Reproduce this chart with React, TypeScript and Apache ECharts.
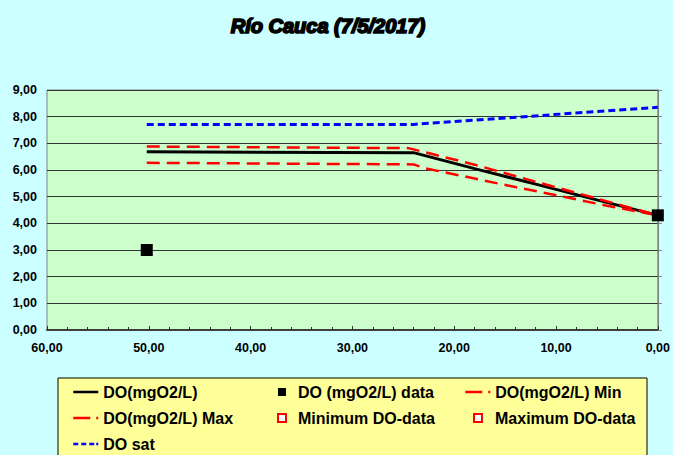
import React, { useEffect, useRef } from "react";
import * as echarts from "echarts";

const titleText = "Río Cauca (7/5/2017)";
const seriesNames = [
  "DO(mgO2/L)",
  "DO (mgO2/L) data",
  "DO(mgO2/L) Min",
  "DO(mgO2/L) Max",
  "Minimum DO-data",
  "Maximum DO-data",
  "DO sat",
];
const doModel: [number, number][] = [[50.2, 6.68], [24, 6.65], [18, 6.05], [12, 5.47], [6, 4.88], [0, 4.3]];
const doData: [number, number][] = [[50.2, 3.0], [0, 4.3]];
const doMin: [number, number][] = [[50.2, 6.27], [24, 6.21], [22.8, 6.06], [19, 5.76], [14, 5.36], [9, 4.98], [5, 4.66], [0, 4.3]];
const doMax: [number, number][] = [[50.2, 6.88], [24.5, 6.82], [18, 6.2], [12, 5.56], [6, 4.93], [0, 4.3]];
const minDoData: [number, number][] = [];
const maxDoData: [number, number][] = [];
const doSat: [number, number][] = [[50.2, 7.71], [24, 7.71], [19, 7.84], [12.4, 8.02], [6, 8.19], [0, 8.35]];

const FONT = "'Liberation Sans', Arial, sans-serif";
const fmt = (v: number) => v.toFixed(2).replace(".", ",");

export default function App() {
  const ref = useRef<HTMLDivElement>(null);
  useEffect(() => {
    if (!ref.current) return;
    const chart = echarts.init(ref.current, undefined, { renderer: "svg" });
    const legendText = { color: "#000", fontFamily: FONT, fontWeight: "bold" as const, fontSize: 16, lineHeight: 16 };
    const redIcon = { type: [17, 6, 2, 20], width: 2.5 };
    chart.setOption({
      animation: false,
      backgroundColor: "#CCFFFF",
      title: {
        text: titleText,
        left: 328,
        top: 16,
        padding: 0,
        textAlign: "center",
        textStyle: {
          fontFamily: FONT,
          fontWeight: "bold",
          fontStyle: "italic",
          fontSize: 20,
          color: "#000",
          textBorderColor: "#000",
          textBorderWidth: 1.7,
        },
      },
      graphic: [
        {
          type: "rect",
          z: 0,
          shape: { x: 58, y: 378, width: 589, height: 100 },
          style: { fill: "#FFFF99", stroke: "#000", lineWidth: 1 },
        },
      ],
      legend: [
        {
          data: [
            { name: seriesNames[0], lineStyle: { width: 2.5 } },
            { name: seriesNames[3], lineStyle: redIcon },
            { name: seriesNames[6], lineStyle: { type: [5, 3, 5, 3, 5, 2, 2, 20], width: 2.5 } },
          ],
          orient: "vertical",
          left: 72,
          top: 384,
          padding: 0,
          itemWidth: 25,
          itemHeight: 14,
          itemGap: 10,
          itemStyle: { opacity: 0 },
          textStyle: legendText,
        },
        {
          data: [seriesNames[1], seriesNames[4]],
          orient: "vertical",
          left: 277,
          top: 384,
          padding: 0,
          itemWidth: 8,
          itemHeight: 8,
          itemGap: 10,
          textStyle: { ...legendText, padding: [0, 0, 0, 7] },
        },
        {
          data: [{ name: seriesNames[2], lineStyle: redIcon }],
          orient: "vertical",
          left: 464,
          top: 384,
          padding: 0,
          itemWidth: 25,
          itemHeight: 14,
          itemGap: 10,
          itemStyle: { opacity: 0 },
          textStyle: legendText,
        },
        {
          data: [seriesNames[5]],
          orient: "vertical",
          left: 473,
          top: 410,
          padding: 0,
          itemWidth: 8,
          itemHeight: 8,
          itemGap: 10,
          textStyle: { ...legendText, padding: [0, 0, 0, 8] },
        },
      ],
      grid: {
        left: 47,
        top: 90,
        width: 613,
        height: 240,
        show: true,
        backgroundColor: "#CCFFCC",
        borderColor: "#808080",
        borderWidth: 1,
      },
      xAxis: {
        type: "value",
        inverse: true,
        min: 0,
        max: 60,
        interval: 10,
        axisLine: { show: true, lineStyle: { color: "#404040", width: 2 } },
        axisTick: { show: true, inside: true, length: 4, lineStyle: { color: "#333" } },
        minorTick: { show: true, splitNumber: 5, length: 3, lineStyle: { color: "#333" } },
        splitLine: { show: false },
        axisLabel: {
          formatter: fmt,
          margin: 11,
          color: "#000",
          fontFamily: FONT,
          fontWeight: "bold",
          fontSize: 12.5,
          showMinLabel: true,
          showMaxLabel: true,
        },
      },
      yAxis: [
        {
          type: "value",
          min: 0,
          max: 9,
          interval: 1,
          position: "left",
          axisLine: { show: true, lineStyle: { color: "#808080" } },
          axisTick: { show: false },
          splitLine: { show: true, lineStyle: { color: "#333", width: 1 } },
          axisLabel: {
            formatter: fmt,
            margin: 10,
            color: "#000",
            fontFamily: FONT,
            fontWeight: "bold",
            fontSize: 12.5,
          },
        },
        {
          type: "value",
          min: 0,
          max: 9,
          interval: 1,
          position: "right",
          axisLine: { show: true, lineStyle: { color: "#808080" } },
          axisTick: { show: true, inside: false, length: 4, lineStyle: { color: "#808080" } },
          splitLine: { show: false },
          axisLabel: { show: false },
        },
      ],
      series: [
        {
          name: seriesNames[0],
          type: "line",
          data: doModel,
          symbol: "none",
          lineStyle: { color: "#000", width: 3 },
          itemStyle: { color: "#000" },
          z: 4,
        },
        {
          name: seriesNames[1],
          type: "scatter",
          data: doData,
          symbol: "rect",
          symbolSize: 12,
          clip: false,
          itemStyle: { color: "#000", opacity: 1 },
          z: 6,
        },
        {
          name: seriesNames[2],
          type: "line",
          data: doMin,
          symbol: "none",
          lineStyle: { color: "#FF0000", width: 2.5, type: [13, 7] },
          itemStyle: { color: "#FF0000" },
          z: 5,
        },
        {
          name: seriesNames[3],
          type: "line",
          data: doMax,
          symbol: "none",
          lineStyle: { color: "#FF0000", width: 2.5, type: [13, 7] },
          itemStyle: { color: "#FF0000" },
          z: 5,
        },
        {
          name: seriesNames[4],
          type: "scatter",
          data: minDoData,
          symbol: "rect",
          symbolSize: 8,
          itemStyle: { color: "#FFFFFF", borderColor: "#FF0000", borderWidth: 1, opacity: 1 },
        },
        {
          name: seriesNames[5],
          type: "scatter",
          data: maxDoData,
          symbol: "rect",
          symbolSize: 8,
          itemStyle: { color: "#FFFFFF", borderColor: "#FF0000", borderWidth: 1, opacity: 1 },
        },
        {
          name: seriesNames[6],
          type: "line",
          data: doSat,
          symbol: "none",
          lineStyle: { color: "#0000FF", width: 3, type: [7, 4] },
          itemStyle: { color: "#0000FF" },
          z: 5,
        },
      ],
    });
    return () => chart.dispose();
  }, []);
  return (
    <div
      ref={ref}
      style={{ position: "fixed", left: 0, top: 0, width: 673, height: 455 }}
    />
  );
}
